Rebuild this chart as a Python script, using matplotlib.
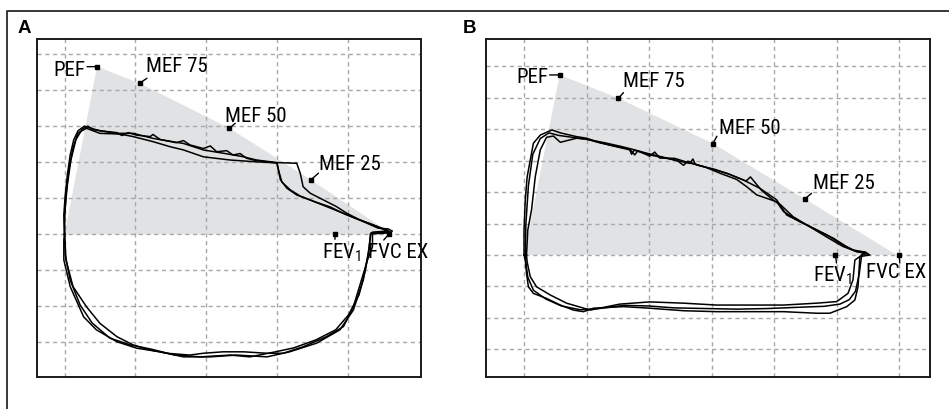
import matplotlib
matplotlib.use("Agg")
import matplotlib.pyplot as plt
import matplotlib.font_manager as fm
from matplotlib.lines import Line2D

plt.rcParams['font.family'] = ['Liberation Sans', 'DejaVu Sans']

# ---------------- Panel A data (volume in grid units, flow in grid units) ----------------
predA_vol = [0.0, 0.46, 1.06, 2.33, 3.48, 4.63]
predA_flow = [0.0, 4.65, 4.19, 2.94, 1.51, 0.0]
labelsA = ["PEF", "MEF 75", "MEF 50", "MEF 25"]
fev1A_vol = 3.82
fvcA_vol = 4.58

a1_vol = [0.0, -0.01, 0.01, 0.04, 0.08, 0.13, 0.19, 0.28, 0.36, 0.50, 0.74, 0.97, 1.25, 1.68, 1.96, 2.24,
          2.53, 2.71, 3.00, 3.28, 3.33, 3.37, 3.47, 3.66, 3.84, 3.99, 4.17, 4.36, 4.55, 4.60, 4.33,
          4.29, 4.22, 4.08, 3.89, 3.56, 3.18, 2.86, 2.43, 2.06, 1.68, 1.35, 1.02, 0.74, 0.45, 0.27,
          0.08, -0.01, -0.01, 0.0]
a1_flow = [0.0, 0.54, 1.09, 1.64, 2.20, 2.62, 2.87, 3.00, 2.95, 2.87, 2.80, 2.80, 2.66, 2.52, 2.34, 2.25,
           2.15, 2.06, 1.99, 1.97, 1.69, 1.32, 1.14, 0.95, 0.77, 0.58, 0.40, 0.26, 0.12, 0.06, 0.04,
           -0.52, -1.27, -2.10, -2.65, -3.02, -3.26, -3.40, -3.35, -3.40, -3.40, -3.26, -3.16, -2.98,
           -2.65, -2.29, -1.45, -0.71, -0.16, 0.0]

a2_vol = [0.0, 0.0, 0.02, 0.06, 0.12, 0.19, 0.31, 0.50, 0.79, 0.97, 1.25, 1.49, 1.68, 1.96, 2.34, 2.71,
          3.00, 3.02, 3.05, 3.14, 3.28, 3.47, 3.70, 3.94, 4.17, 4.36, 4.50, 4.57, 4.35, 4.35, 4.28,
          4.18, 4.08, 3.94, 3.70, 3.37, 3.09, 2.86, 2.53, 2.24, 1.96, 1.77, 1.44, 1.21, 0.97, 0.74,
          0.50, 0.31, 0.12, 0.02, 0.01, 0.0]
a2_flow = [0.0, 0.40, 1.09, 1.78, 2.39, 2.81, 2.94, 2.80, 2.78, 2.71, 2.57, 2.43, 2.34, 2.15, 2.06, 2.01,
           1.98, 1.78, 1.51, 1.28, 1.09, 0.95, 0.77, 0.58, 0.40, 0.26, 0.14, 0.09, 0.06, -0.34, -0.71,
           -1.36, -2.01, -2.56, -2.84, -3.12, -3.30, -3.30, -3.26, -3.26, -3.30, -3.35, -3.30, -3.21,
           -3.07, -2.84, -2.47, -2.01, -1.45, -0.71, -0.30, 0.0]

a3_vol = [0.0, 0.0, 0.04, 0.09, 0.16, 0.25, 0.33, 0.41, 0.60, 0.74, 0.81, 0.90, 1.02, 1.21, 1.25, 1.35,
          1.58, 1.68, 1.77, 1.96, 2.06, 2.15, 2.29, 2.38, 2.48, 2.57, 2.67, 2.90, 3.00, 3.03, 3.07,
          3.19, 3.33, 3.54, 3.75, 3.96, 4.20, 4.43, 4.57, 4.63, 4.60, 4.32, 4.30, 4.25, 4.16, 4.01,
          3.83, 3.55, 3.24, 2.98, 2.62, 2.34, 1.92, 1.56, 1.21, 0.93, 0.64, 0.39, 0.22, 0.08, 0.01, 0.0]
a3_flow = [0.0, 0.54, 1.37, 2.06, 2.62, 2.92, 3.00, 2.90, 2.85, 2.82, 2.74, 2.82, 2.75, 2.71, 2.77, 2.63,
           2.54, 2.60, 2.48, 2.38, 2.45, 2.29, 2.32, 2.20, 2.24, 2.11, 2.06, 2.00, 1.98, 1.73, 1.45,
           1.23, 1.06, 0.90, 0.76, 0.56, 0.37, 0.17, 0.15, 0.09, 0.04, 0.01, -0.44, -0.99, -1.68, -2.24,
           -2.65, -2.93, -3.15, -3.26, -3.40, -3.35, -3.40, -3.35, -3.18, -3.07, -2.88, -2.46, -1.96,
           -1.27, -0.57, 0.0]

# ---------------- Panel B data ----------------
predB_vol = [0.0, 0.57, 1.51, 3.02, 4.49, 5.96]
predB_flow = [0.0, 5.72, 4.98, 3.54, 1.78, 0.0]
labelsB = ["PEF", "MEF 75", "MEF 50", "MEF 25"]
fev1B_vol = 4.98
fvcB_vol = 6.00

b1_vol = [0.0, 0.0, 0.02, 0.05, 0.10, 0.15, 0.26, 0.42, 0.45, 0.58, 0.84, 1.00, 1.16, 1.37, 1.69, 1.72,
          1.76, 2.01, 2.28, 2.65, 2.70, 2.74, 2.97, 3.24, 3.51, 3.77, 4.04, 4.20, 4.36, 4.63, 4.84,
          5.05, 5.26, 5.42, 5.53, 5.37, 5.34, 5.29, 5.16, 4.89, 4.68, 4.15, 3.61, 3.08, 2.55, 2.01,
          1.59, 1.11, 0.95, 0.79, 0.58, 0.36, 0.15, 0.07, 0.04, 0.02, 0.0]
b1_flow = [0.0, 0.79, 1.75, 2.48, 3.02, 3.55, 3.81, 3.95, 3.97, 3.88, 3.76, 3.71, 3.60, 3.49, 3.34, 3.20,
           3.33, 3.18, 3.07, 2.91, 3.05, 2.88, 2.75, 2.60, 2.38, 2.12, 1.75, 1.27, 1.11, 0.85, 0.64,
           0.37, 0.16, 0.10, 0.0, -0.05, -1.01, -1.43, -1.64, -1.85, -1.85, -1.80, -1.80, -1.80, -1.77,
           -1.69, -1.64, -1.69, -1.80, -1.75, -1.59, -1.38, -1.22, -1.01, -0.58, -0.16, 0.0]

b2_vol = [0.04, 0.06, 0.12, 0.18, 0.26, 0.36, 0.47, 0.58, 0.84, 1.00, 1.22, 1.69, 1.77, 1.82, 2.01, 2.09,
          2.17, 2.41, 2.65, 2.89, 3.13, 3.40, 3.56, 3.72, 4.04, 4.15, 4.41, 4.68, 4.95, 5.16, 5.32,
          5.45, 5.29, 5.26, 5.18, 5.00, 4.68, 4.15, 3.61, 3.08, 2.55, 2.01, 1.53, 1.06, 0.68, 0.42,
          0.20, 0.10, 0.05, 0.04]
b2_flow = [0.0, 0.79, 1.43, 2.49, 3.34, 3.74, 3.78, 3.58, 3.71, 3.68, 3.56, 3.36, 3.18, 3.31, 3.14, 3.27,
           3.08, 3.07, 2.92, 2.80, 2.60, 2.40, 2.17, 1.91, 1.69, 1.38, 1.06, 0.79, 0.53, 0.26, 0.10,
           0.06, -0.16, -0.79, -1.22, -1.48, -1.53, -1.59, -1.59, -1.59, -1.53, -1.49, -1.56, -1.75,
           -1.53, -1.27, -1.01, -0.69, -0.22, 0.0]

b3_vol = [0.02, 0.03, 0.07, 0.14, 0.26, 0.40, 0.55, 0.80, 1.05, 1.30, 1.55, 1.75, 1.95, 2.20, 2.45, 2.55,
          2.62, 2.80, 3.05, 3.30, 3.55, 3.62, 3.80, 4.00, 4.10, 4.30, 4.50, 4.70, 4.90, 5.10, 5.30,
          5.45, 5.50, 5.40, 5.36, 5.30, 5.20, 5.05, 4.80, 4.40, 3.90, 3.40, 2.90, 2.40, 2.00, 1.60,
          1.20, 0.90, 0.60, 0.35, 0.15, 0.06, 0.03, 0.02]
b3_flow = [0.0, 1.00, 2.20, 3.20, 3.70, 3.88, 3.80, 3.73, 3.66, 3.56, 3.45, 3.35, 3.24, 3.12, 3.00, 2.85,
           2.98, 2.84, 2.72, 2.55, 2.35, 2.48, 2.05, 1.72, 1.60, 1.22, 0.98, 0.74, 0.50, 0.27, 0.12,
           0.10, 0.04, 0.02, -0.60, -1.15, -1.42, -1.56, -1.63, -1.66, -1.70, -1.72, -1.70, -1.68,
           -1.62, -1.60, -1.70, -1.74, -1.62, -1.40, -1.12, -0.70, -0.25, 0.0]


# ---------------- font choice: a narrow sans if one is installed ----------------
def _is_regular(e):
    return e.style == 'normal' and str(e.weight) in ('400', 'normal', 'regular', 'book')


def pick_narrow():
    entries = fm.fontManager.ttflist
    for name in ['Liberation Sans Narrow', 'Arial Narrow', 'DejaVu Sans Condensed',
                 'Roboto Condensed', 'Noto Sans Condensed', 'Open Sans Condensed']:
        for e in entries:
            if e.name == name and _is_regular(e):
                return e.fname
    for e in entries:
        low = e.fname.lower()
        if (e.stretch in ('condensed', 'semi-condensed') or 'condensed' in low or 'narrow' in low) \
                and _is_regular(e) and 'mono' not in low and 'serif' not in low \
                and 'bold' not in low and 'italic' not in low and 'light' not in low \
                and 'semibold' not in low and 'medium' not in low and 'black' not in low \
                and 'thin' not in low:
            return e.fname
    return None


_narrow = pick_narrow()
if _narrow:
    label_font = fm.FontProperties(fname=_narrow, size=15)
else:
    label_font = fm.FontProperties(family='Liberation Sans', size=12.5)

# ---------------- styling / layout ----------------
W, H = 949, 409
fig = plt.figure(figsize=(W / 100, H / 100), dpi=100)


def px_axes(l, t, r, b):
    return fig.add_axes([l / W, 1 - b / H, (r - l) / W, (b - t) / H])


axA = px_axes(36.7, 39.3, 420.7, 377.3)
axB = px_axes(486.0, 39.3, 930.3, 377.3)

grid_kw = dict(color='#a8a8a8', lw=1.0, ls=(0, (3, 2.6)), zorder=1)
shade = '#e1e2e3'


def setup(ax, xlim, ylim, xg, yg):
    ax.set_xlim(*xlim)
    ax.set_ylim(*ylim)
    for g in xg:
        ax.axvline(g, **grid_kw)
    for g in yg:
        ax.axhline(g, **grid_kw)
    ax.set_xticks([])
    ax.set_yticks([])
    for s in ax.spines.values():
        s.set_linewidth(1.4)
        s.set_color('#1a1a1a')
        s.set_zorder(10)


setup(axA, (-0.393, 5.031), (-3.967, 5.409), range(0, 5), range(-3, 6))
setup(axB, (-0.608, 6.496), (-3.885, 6.852), range(0, 7), range(-3, 7))


def draw_panel(ax, pv, pf, labels, fev1, fvc, loops, offs):
    ax.fill(pv, pf, color=shade, lw=0, zorder=0)
    for v, f in loops:
        ax.plot(v, f, color='black', lw=1.1, zorder=3, solid_joinstyle='round')
    pts = list(zip(pv[1:5], pf[1:5])) + [(fev1, 0.0), (fvc, 0.0)]
    names = labels + [r'FEV$_{\mathregular{1}}$', 'FVC EX']
    for (x, y), name, (lead, txt, ha) in zip(pts, names, offs):
        ax.plot([x], [y], marker='s', ms=2.8, color='black', zorder=5)
        ax.annotate('', xy=(x, y), xytext=lead, textcoords='offset pixels',
                    arrowprops=dict(arrowstyle='-', lw=1.0, color='black', shrinkA=0, shrinkB=0),
                    zorder=5)
        ax.annotate(name, xy=(x, y), xytext=txt, textcoords='offset pixels', ha=ha,
                    va='baseline', fontproperties=label_font, color='black', zorder=6)


offsA = [((-10, 0), (-11.7, -9.3), 'right'),
         ((7.4, 5), (6.7, 11), 'left'),
         ((5.7, 5), (-4.3, 6.6), 'left'),
         ((7.6, 6.7), (8.6, 10), 'left'),
         ((0, -5), (-13.3, -24), 'left'),
         ((-5, -5.7), (-20.7, -24), 'left')]
offsB = [((-10, 0), (-11, -8.3), 'right'),
         ((5, 5.6), (4.4, 11), 'left'),
         ((4, 7.3), (5.6, 10), 'left'),
         ((6.7, 5.7), (8.3, 9.7), 'left'),
         ((1, -8), (-22, -26.7), 'left'),
         ((0.5, -8), (-33.3, -23.3), 'left')]

draw_panel(axA, predA_vol, predA_flow, labelsA, fev1A_vol, fvcA_vol,
           [(a1_vol, a1_flow), (a2_vol, a2_flow), (a3_vol, a3_flow)], offsA)
draw_panel(axB, predB_vol, predB_flow, labelsB, fev1B_vol, fvcB_vol,
           [(b1_vol, b1_flow), (b2_vol, b2_flow), (b3_vol, b3_flow)], offsB)

fig.text(18.0 / W, 1 - 33.3 / H, 'A', fontsize=13.5, fontweight='bold', va='baseline')
fig.text(463.0 / W, 1 - 33.3 / H, 'B', fontsize=13.5, fontweight='bold', va='baseline')

fig.add_artist(Line2D([7 / W, 7 / W, 1.0], [0.0, 1 - 10.5 / H, 1 - 10.5 / H],
                      transform=fig.transFigure, color='#2a2a2a', lw=1.3))

fig.savefig('out.png', dpi=100)
